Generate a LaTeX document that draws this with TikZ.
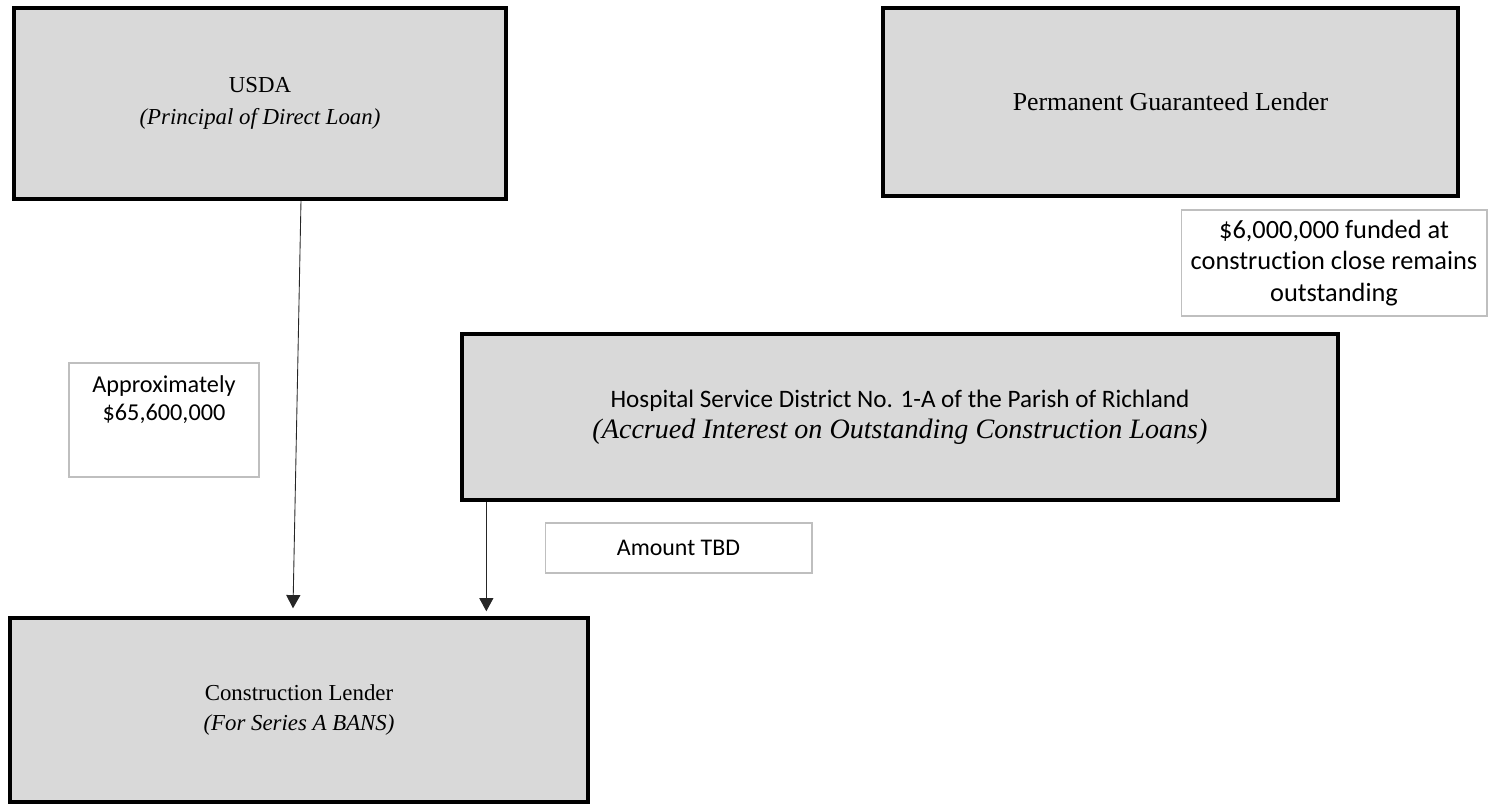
\documentclass[tikz,border=0pt]{standalone}
\usepackage{fontspec}
\setmainfont{Liberation Serif}
\newfontfamily\calfont[Ligatures=NoCommon]{Carlito}
\usetikzlibrary{arrows.meta}
\definecolor{boxgray}{HTML}{D9D9D9}
\definecolor{lblline}{HTML}{BFBFBF}
\newcommand{\fsz}[2]{\fontsize{#1}{#2}\selectfont}

\begin{document}
\begin{tikzpicture}[x=0.02cm, y=-0.02cm,
        party/.style={draw=black, line width=2pt, fill=boxgray, align=center,
            font=\fsz{13}{18}, inner sep=0pt},
        amount/.style={draw=lblline, line width=0.6pt, fill=white, align=center,
            font=\calfont\fsz{13.8}{16}, inner sep=0pt},
        flow/.style={-{Triangle[width=8pt, length=7.5pt]}, line width=0.5pt, black!85}]
        \useasboundingbox (0, 0) rectangle (1488, 806);
        \node[party, minimum width=9.84cm, minimum height=3.82cm] (usda) at (260, 103.5)
            {USDA\\\textit{(Principal of Direct Loan)}};
        \node[party, minimum width=11.5cm, minimum height=3.76cm, font=\fsz{14.7}{18}] (perm) at (1170.5, 102)
            {Permanent Guaranteed Lender};
        \node[party, minimum width=17.52cm, minimum height=3.32cm, font=\fsz{14.3}{17.5}] (hosp) at (900, 417)
            {{\calfont Hospital Service District No. 1-A of the Parish of Richland}\\
            {\fsz{16}{17.5}\textit{(Accrued Interest on Outstanding Construction Loans)}}};
        \node[party, minimum width=11.56cm, minimum height=3.68cm, font=\fsz{13}{17}] (constr) at (299, 710)
            {Construction Lender\\\textit{(For Series A BANS)}};
        \node[amount, minimum width=6.12cm, minimum height=2.12cm, font=\calfont\fsz{15}{17.8}] (funded) at (1334, 263)
            {\$6,000,000 funded at\\construction close remains\\outstanding};
        \node[amount] (approx) at (164, 420)
            {\parbox[c][2.28cm][t]{3.8cm}{\centering\vspace{7pt}Approximately\\\$65,600,000}};
        \node[amount, minimum width=5.34cm, minimum height=1cm, font=\calfont\fsz{13.6}{16}] (tbd) at (678.5, 548)
            {Amount TBD};
        \draw[flow] ([xshift=0.82cm]usda.south) -- ([xshift=-0.12cm, yshift=0.16cm]constr.north);
        \draw[flow] ([xshift=0.52cm]hosp.south west) coordinate (h)
            -- ([yshift=0.1cm]h |- constr.north);
    \end{tikzpicture}
\end{document}
